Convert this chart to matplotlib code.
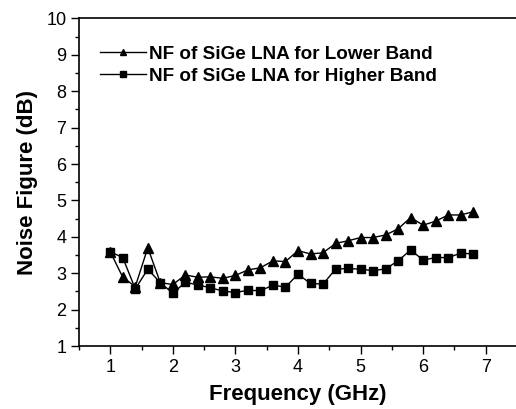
import numpy as np
import matplotlib.pyplot as plt
from matplotlib.ticker import MultipleLocator

plt.rcParams['font.family'] = ['Liberation Sans', 'DejaVu Sans']

# frequency sweep (GHz)
freq = [1.0, 1.2, 1.4, 1.6, 1.8, 2.0, 2.2, 2.4, 2.6, 2.8,
        3.0, 3.2, 3.4, 3.6, 3.8, 4.0, 4.2, 4.4, 4.6, 4.8,
        5.0, 5.2, 5.4, 5.6, 5.8, 6.0, 6.2, 6.4, 6.6, 6.8]

# noise figure (dB), lower band
nf_lower = [3.59, 2.89, 2.63, 3.70, 2.74, 2.69, 2.95, 2.89, 2.90, 2.86,
            2.94, 3.09, 3.15, 3.34, 3.32, 3.62, 3.53, 3.56, 3.82, 3.89,
            3.98, 3.98, 4.05, 4.22, 4.53, 4.32, 4.43, 4.60, 4.60, 4.69]

# noise figure (dB), higher band
nf_higher = [3.59, 3.43, 2.57, 3.11, 2.74, 2.45, 2.75, 2.68, 2.60, 2.51,
             2.47, 2.53, 2.52, 2.67, 2.62, 2.97, 2.72, 2.70, 3.11, 3.13,
             3.11, 3.07, 3.12, 3.34, 3.64, 3.36, 3.43, 3.43, 3.55, 3.53]

fig = plt.figure(figsize=(5.16, 4.09), dpi=100)
ax = fig.add_axes([0.153, 0.154, 0.849, 0.801])

ax.plot(freq, nf_lower, color='black', lw=1.0, marker='^', ms=7,
        label='NF of SiGe LNA for Lower Band')
ax.plot(freq, nf_higher, color='black', lw=1.0, marker='s', ms=5.5,
        label='NF of SiGe LNA for Higher Band')

ax.set_xlim(0.5, 7.5)
ax.set_ylim(1, 10)
ax.xaxis.set_major_locator(MultipleLocator(1))
ax.xaxis.set_minor_locator(MultipleLocator(0.5))
ax.yaxis.set_major_locator(MultipleLocator(1))
ax.yaxis.set_minor_locator(MultipleLocator(0.5))
ax.tick_params(which='both', direction='out', top=False, right=False,
               labelsize=13, width=1.0, pad=3)
ax.tick_params(which='major', length=6)
ax.tick_params(which='minor', length=3)
for s in ax.spines.values():
    s.set_linewidth(1.2)

ax.set_xlabel('Frequency (GHz)', fontsize=16, fontweight='bold', labelpad=6)
ax.set_ylabel('Noise Figure (dB)', fontsize=16, fontweight='bold', labelpad=6)

leg = ax.legend(loc='center left', bbox_to_anchor=(0.01, 0.857), frameon=False,
                handlelength=2.4, handletextpad=0.2, labelspacing=0.25,
                prop={'size': 13.6, 'weight': 'bold'}, markerscale=0.7)

fig.savefig('out.png', dpi=100)
